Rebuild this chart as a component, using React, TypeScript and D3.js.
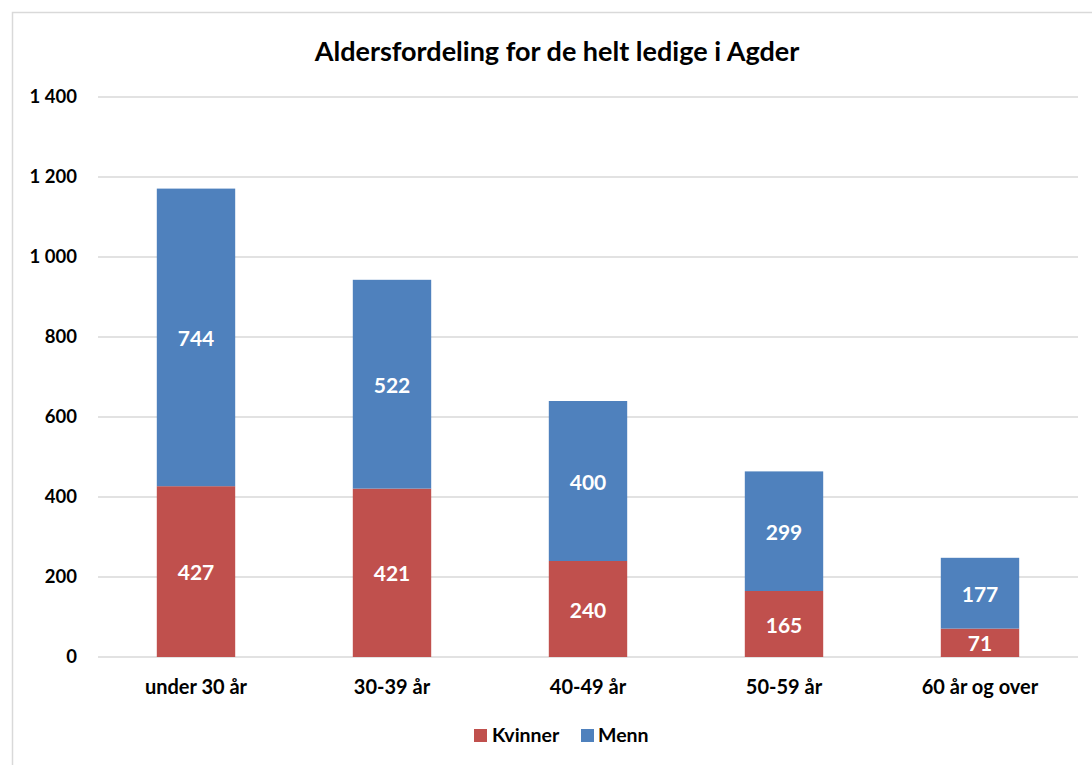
import React from "react";
import * as d3 from "d3";

const categories = ["under 30 år", "30-39 år", "40-49 år", "50-59 år", "60 år og over"];
const kvinner = [427, 421, 240, 165, 71];
const menn = [744, 522, 400, 299, 177];
const seriesNames = ["Kvinner", "Menn"];
const seriesColors = ["#C0504D", "#4F81BD"];
const yTicks = [0, 200, 400, 600, 800, 1000, 1200, 1400];

const W = 1092;
const H = 765;
const FONT = "Lato, 'Open Sans', sans-serif";

export default function App() {
  const x = d3.scaleBand<string>().domain(categories).range([98, 1078]).paddingInner(0.6).paddingOuter(0.3);
  const y = d3.scaleLinear().domain([0, 1400]).range([657, 97]);
  const fmt = (v: number) => d3.format(",")(v).replace(/,/g, " ");

  const stackData = categories.map((c, i) => ({ cat: c, Kvinner: kvinner[i], Menn: menn[i] }));
  const stack = d3.stack<any>().keys(seriesNames)(stackData);

  return (
    <svg width={W} height={H} style={{ position: "absolute", left: 0, top: 0, background: "#fff" }}>
      <rect x={0} y={0} width={W} height={H} fill="#fff" />
      <rect x={12.5} y={12.5} width={1100} height={800} fill="#fff" stroke="#d9d9d9" strokeWidth={1.5} />
      <text x={557} y={61} textAnchor="middle" fontFamily={FONT} fontWeight={700} fontSize={27} fill="#000">
        Aldersfordeling for de helt ledige i Agder
      </text>
      {yTicks.map((t) => (
        <g key={t}>
          <line x1={98} x2={1078} y1={y(t)} y2={y(t)} stroke="#d9d9d9" strokeWidth={1.5} />
          <text x={77} y={y(t)} dy="0.35em" textAnchor="end" fontFamily={FONT} fontWeight={700} fontSize={18.5} fill="#000">
            {fmt(t)}
          </text>
        </g>
      ))}
      {stack.map((s, si) => (
        <g key={s.key}>
          {s.map((d: any, i: number) => (
            <g key={i}>
              <rect
                x={x(categories[i])}
                y={y(d[1])}
                width={x.bandwidth()}
                height={y(d[0]) - y(d[1])}
                fill={seriesColors[si]}
              />
              <text
                x={(x(categories[i]) as number) + x.bandwidth() / 2}
                y={(y(d[0]) + y(d[1])) / 2 + 1}
                dy="0.36em"
                textAnchor="middle"
                fontFamily={FONT}
                fontWeight={700}
                fontSize={21}
                fill="#fff"
              >
                {d[1] - d[0]}
              </text>
            </g>
          ))}
        </g>
      ))}
      {categories.map((c) => (
        <text
          key={c}
          x={(x(c) as number) + x.bandwidth() / 2}
          y={687}
          dy="0.35em"
          textAnchor="middle"
          fontFamily={FONT}
          fontWeight={700}
          fontSize={20}
          fill="#000"
        >
          {c}
        </text>
      ))}
      <g>
        <rect x={474} y={729} width={13} height={13} fill={seriesColors[0]} />
        <text x={492} y={735.5} dy="0.35em" fontFamily={FONT} fontWeight={700} fontSize={19.5} fill="#000">
          {seriesNames[0]}
        </text>
        <rect x={581} y={729} width={13} height={13} fill={seriesColors[1]} />
        <text x={598} y={735.5} dy="0.35em" fontFamily={FONT} fontWeight={700} fontSize={19.5} fill="#000">
          {seriesNames[1]}
        </text>
      </g>
    </svg>
  );
}
